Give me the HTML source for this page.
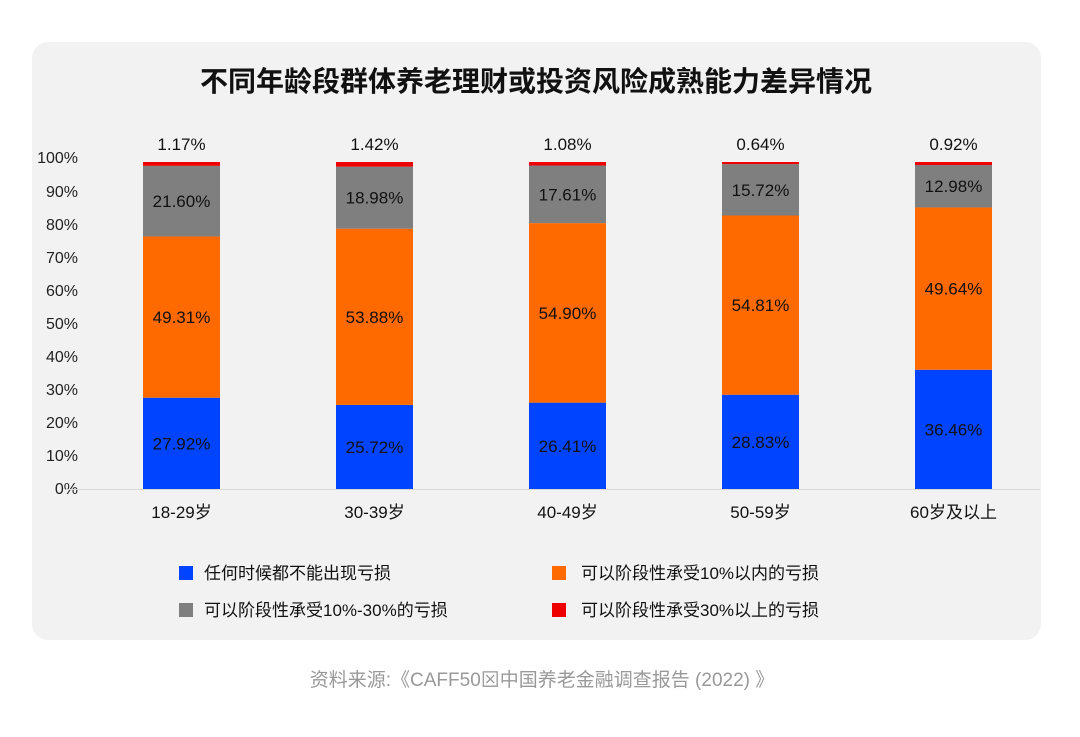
<!DOCTYPE html>
<html><head><meta charset="utf-8"><style>
body{margin:0;background:#fff;width:1080px;height:732px;overflow:hidden}
svg text{font-family:"Liberation Sans","Noto Sans CJK SC",sans-serif}
</style></head><body>
<svg width="1080" height="732" xmlns="http://www.w3.org/2000/svg">
<rect x="32" y="42" width="1009" height="598" rx="16" fill="#f2f2f2"/>
<text x="536" y="91" text-anchor="middle" font-size="28" font-weight="bold" fill="#111">不同年龄段群体养老理财或投资风险成熟能力差异情况</text>
<g font-size="16" fill="#222" text-anchor="end">
<text x="78" y="494">0%</text><text x="78" y="461">10%</text><text x="78" y="428">20%</text><text x="78" y="395">30%</text><text x="78" y="362">40%</text><text x="78" y="329">50%</text><text x="78" y="296">60%</text><text x="78" y="263">70%</text><text x="78" y="230">80%</text><text x="78" y="197">90%</text><text x="78" y="163">100%</text>
</g>
<line x1="66" y1="489.5" x2="1040" y2="489.5" stroke="#d9d9d9"/>
<g id="bars"></g>
<g font-size="17" fill="#111">
<rect x="179" y="566" width="14" height="14" fill="#0044ff"/><text x="204" y="579">任何时候都不能出现亏损</text>
<rect x="552" y="566" width="14" height="14" fill="#ff6a00"/><text x="581" y="579">可以阶段性承受10%以内的亏损</text>
<rect x="179" y="603" width="14" height="14" fill="#7f7f7f"/><text x="204" y="616">可以阶段性承受10%-30%的亏损</text>
<rect x="552" y="603" width="14" height="14" fill="#ee0000"/><text x="581" y="616">可以阶段性承受30%以上的亏损</text>
</g>
<text x="542" y="686" text-anchor="middle" font-size="19" fill="#999">资料来源:《CAFF50⊠中国养老金融调查报告 (2022) 》</text>
</svg>
<script>
var d=[["18-29岁",27.92,49.31,21.60,1.17],["30-39岁",25.72,53.88,18.98,1.42],["40-49岁",26.41,54.90,17.61,1.08],["50-59岁",28.83,54.81,15.72,0.64],["60岁及以上",36.46,49.64,12.98,0.92]];
var c=["#0044ff","#ff6a00","#7f7f7f","#ee0000"],s="",k=3.27,b=489;
d.forEach(function(r,i){var x=143+i*193,y=b,cx=x+38.5;
for(var j=1;j<=4;j++){var h=r[j]*k;y-=h;s+='<rect x="'+x+'" y="'+y+'" width="77" height="'+h+'" fill="'+c[j-1]+'"/>';
if(j<4)s+='<text x="'+cx+'" y="'+(y+h/2+6)+'" text-anchor="middle" font-size="17" fill="#111">'+r[j].toFixed(2)+'%</text>';
else s+='<text x="'+cx+'" y="150" text-anchor="middle" font-size="17" fill="#111">'+r[j].toFixed(2)+'%</text>';}
s+='<text x="'+cx+'" y="518" text-anchor="middle" font-size="17" fill="#111">'+r[0]+'</text>';});
document.getElementById("bars").innerHTML=s;
</script>
</body></html>
